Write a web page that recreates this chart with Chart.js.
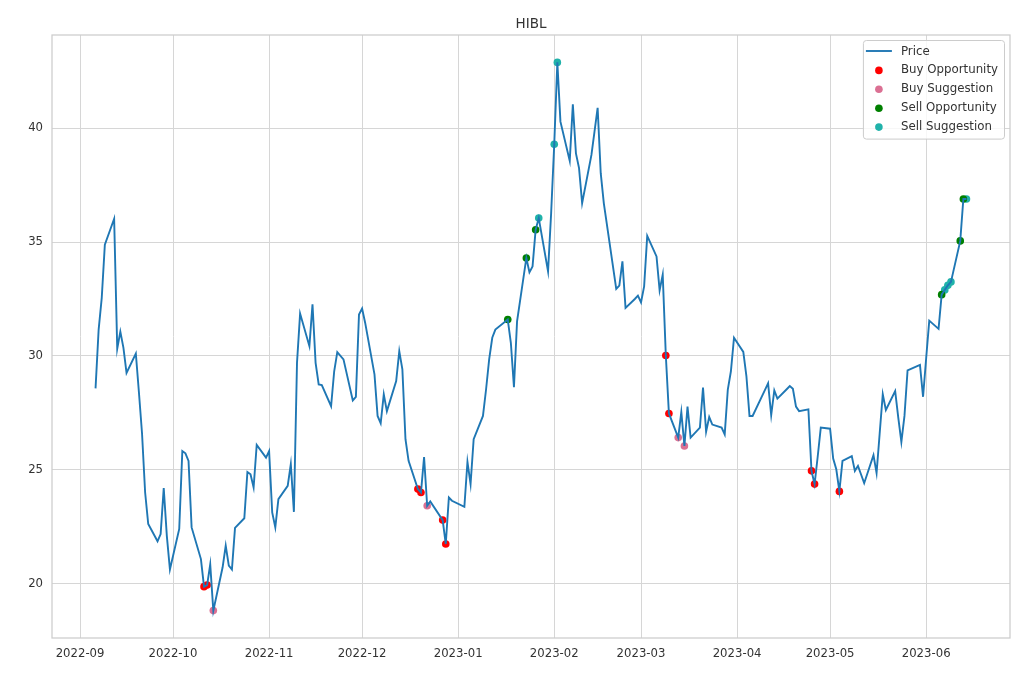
<!DOCTYPE html>
<html>
<head>
<meta charset="utf-8">
<script src="https://cdn.jsdelivr.net/npm/chart.js@4.4.1/dist/chart.umd.min.js"></script>
<style>
  html, body { margin: 0; padding: 0; background: #ffffff; }
  #wrap { width: 1020px; height: 680px; }
</style>
</head>
<body>
<div id="wrap"><canvas id="c" width="1020" height="680"></canvas></div>
<script>
// ---------------- data ----------------
const chartTitle = 'HIBL';

const dates = [
  '2022-09-06','2022-09-07','2022-09-08','2022-09-09','2022-09-12','2022-09-13','2022-09-14','2022-09-15','2022-09-16',
  '2022-09-19','2022-09-20','2022-09-21','2022-09-22','2022-09-23','2022-09-26','2022-09-27','2022-09-28','2022-09-29','2022-09-30',
  '2022-10-03','2022-10-04','2022-10-05','2022-10-06','2022-10-07','2022-10-10','2022-10-11','2022-10-12','2022-10-13','2022-10-14',
  '2022-10-17','2022-10-18','2022-10-19','2022-10-20','2022-10-21','2022-10-24','2022-10-25','2022-10-26','2022-10-27','2022-10-28',
  '2022-10-31','2022-11-01','2022-11-02','2022-11-03','2022-11-04','2022-11-07','2022-11-08','2022-11-09','2022-11-10','2022-11-11',
  '2022-11-14','2022-11-15','2022-11-16','2022-11-17','2022-11-18','2022-11-21','2022-11-22','2022-11-23','2022-11-25',
  '2022-11-28','2022-11-29','2022-11-30','2022-12-01','2022-12-02','2022-12-05','2022-12-06','2022-12-07','2022-12-08','2022-12-09',
  '2022-12-12','2022-12-13','2022-12-14','2022-12-15','2022-12-16','2022-12-19','2022-12-20','2022-12-21','2022-12-22','2022-12-23',
  '2022-12-27','2022-12-28','2022-12-29','2022-12-30','2023-01-03','2023-01-04','2023-01-05','2023-01-06',
  '2023-01-09','2023-01-10','2023-01-11','2023-01-12','2023-01-13','2023-01-17','2023-01-18','2023-01-19','2023-01-20',
  '2023-01-23','2023-01-24','2023-01-25','2023-01-26','2023-01-27','2023-01-30','2023-01-31','2023-02-01','2023-02-02','2023-02-03',
  '2023-02-06','2023-02-07','2023-02-08','2023-02-09','2023-02-10','2023-02-13','2023-02-14','2023-02-15','2023-02-16','2023-02-17',
  '2023-02-21','2023-02-22','2023-02-23','2023-02-24','2023-02-27','2023-02-28','2023-03-01','2023-03-02','2023-03-03',
  '2023-03-06','2023-03-07','2023-03-08','2023-03-09','2023-03-10','2023-03-13','2023-03-14','2023-03-15','2023-03-16','2023-03-17',
  '2023-03-20','2023-03-21','2023-03-22','2023-03-23','2023-03-24','2023-03-27','2023-03-28','2023-03-29','2023-03-30','2023-03-31',
  '2023-04-03','2023-04-04','2023-04-05','2023-04-06','2023-04-10','2023-04-11','2023-04-12','2023-04-13','2023-04-14',
  '2023-04-17','2023-04-18','2023-04-19','2023-04-20','2023-04-21','2023-04-24','2023-04-25','2023-04-26','2023-04-27','2023-04-28',
  '2023-05-01','2023-05-02','2023-05-03','2023-05-04','2023-05-05','2023-05-08','2023-05-09','2023-05-10','2023-05-11','2023-05-12',
  '2023-05-15','2023-05-16','2023-05-17','2023-05-18','2023-05-19','2023-05-22','2023-05-23','2023-05-24','2023-05-25','2023-05-26',
  '2023-05-30','2023-05-31','2023-06-01','2023-06-02','2023-06-05','2023-06-06','2023-06-07','2023-06-08','2023-06-09',
  '2023-06-12','2023-06-13','2023-06-14'
];

const prices = [
  28.58,31.16,32.55,34.88,36.02,30.32,31.07,30.36,29.26,
  30.11,28.40,26.60,24.01,22.63,21.87,22.19,24.21,22.11,20.63,
  22.41,25.83,25.73,25.40,22.48,21.09,19.88,19.95,20.86,18.83,
  20.73,21.68,20.80,20.63,22.46,22.88,24.91,24.81,24.23,26.10,
  25.54,25.83,23.14,22.48,23.72,24.30,25.25,23.16,29.70,31.86,
  30.43,32.27,29.70,28.75,28.72,27.80,29.33,30.17,29.85,
  28.05,28.21,31.82,32.08,31.45,29.19,27.37,27.05,28.32,27.58,
  28.90,30.21,29.41,26.35,25.40,24.16,24.01,25.57,23.43,23.62,
  22.80,21.75,23.79,23.65,23.38,25.35,24.38,26.35,
  27.37,28.53,29.85,30.80,31.16,31.60,30.58,28.63,31.52,
  34.30,33.67,33.93,35.54,36.05,33.71,36.27,39.29,42.88,40.28,
  38.56,41.04,38.89,38.24,36.70,38.82,39.85,40.89,38.02,36.70,
  32.94,33.09,34.15,32.11,32.50,32.65,32.35,33.05,35.27,
  34.37,32.88,33.57,30.02,27.48,26.42,27.54,26.05,27.78,26.42,
  26.86,28.61,26.68,27.32,26.99,26.86,26.56,28.53,29.33,30.80,
  30.18,29.12,27.37,27.37,28.51,28.80,27.40,28.49,28.13,
  28.54,28.68,28.56,27.78,27.58,27.66,24.96,24.38,25.58,26.86,
  26.81,25.50,25.03,24.06,25.40,25.61,24.96,25.18,24.80,24.42,
  25.65,24.86,26.60,28.32,27.63,28.46,27.30,26.23,27.37,29.37,
  29.61,28.21,29.90,31.55,31.19,32.69,32.90,33.10,33.25,
  35.05,36.89,36.89
];

const buyOpportunityDates  = ['2022-10-11','2022-10-12','2022-12-19','2022-12-20','2022-12-27','2022-12-28','2023-03-09','2023-03-10','2023-04-25','2023-04-26','2023-05-04'];
const buyOpportunityValues = [19.88,19.95,24.16,24.01,22.80,21.75,30.02,27.48,24.96,24.38,24.06];

const buySuggestionDates  = ['2022-10-14','2022-12-22','2023-03-13','2023-03-15'];
const buySuggestionValues = [18.83,23.43,26.42,26.05];

const sellOpportunityDates  = ['2023-01-17','2023-01-23','2023-01-26','2023-06-06','2023-06-12','2023-06-13'];
const sellOpportunityValues = [31.60,34.30,35.54,32.69,35.05,36.89];

const sellSuggestionDates  = ['2023-01-27','2023-02-01','2023-02-02','2023-06-07','2023-06-08','2023-06-09','2023-06-14'];
const sellSuggestionValues = [36.05,39.29,42.88,32.90,33.10,33.25,36.89];

const xTickLabels = ['2022-09','2022-10','2022-11','2022-12','2023-01','2023-02','2023-03','2023-04','2023-05','2023-06'];
const yTickValues = [20, 25, 30, 35, 40];

// ---------------- helpers ----------------
const toMs = s => Date.parse(s + 'T00:00:00Z');
const pts = (ds, vs) => ds.map((d, i) => ({ x: toMs(d), y: vs[i] }));

const allX = dates.map(toMs);
const xFirst = Math.min(...allX), xLast = Math.max(...allX);
const xPad = (xLast - xFirst) * 0.05;
const allY = prices.concat(buyOpportunityValues, buySuggestionValues, sellOpportunityValues, sellSuggestionValues);
const yLo = Math.min(...allY), yHi = Math.max(...allY);
const yPad = (yHi - yLo) * 0.05;

const FONT = 'DejaVu Sans';
const TEXT = '#333333';
const GRID = '#d6d6d6';

const framePlugin = {
  id: 'frame',
  afterDatasetsDraw(chart) {
    const { ctx, chartArea: a } = chart;
    ctx.save();
    ctx.strokeStyle = '#cccccc';
    ctx.lineWidth = 1.25;
    ctx.strokeRect(a.left, a.top, a.right - a.left, a.bottom - a.top);
    ctx.restore();
  }
};

const insideLegend = {
  id: 'insideLegend',
  afterDraw(chart) {
    const { ctx, chartArea: a } = chart;
    const ds = chart.data.datasets;
    ctx.save();
    ctx.font = '11.8px "' + FONT + '"';
    const tw = Math.max(...ds.map(d => ctx.measureText(d.label).width));
    const w = 38 + tw + 6, rowH = 18.9, h = 11 + rowH * (ds.length - 1) + 12;
    const right = a.right - 6, top = a.top + 5, left = right - w;
    ctx.beginPath();
    if (ctx.roundRect) ctx.roundRect(left + 0.5, top + 0.5, w, h, 3); else ctx.rect(left + 0.5, top + 0.5, w, h);
    ctx.fillStyle = 'rgba(255,255,255,0.8)';
    ctx.fill();
    ctx.strokeStyle = '#cccccc';
    ctx.lineWidth = 1;
    ctx.stroke();
    ds.forEach((d, i) => {
      const y = top + 11 + i * rowH;
      if (d.type === 'line') {
        ctx.beginPath();
        ctx.moveTo(left + 3, y);
        ctx.lineTo(left + 29, y);
        ctx.strokeStyle = d.borderColor;
        ctx.lineWidth = d.borderWidth;
        ctx.stroke();
      } else {
        ctx.beginPath();
        ctx.arc(left + 16, y + 0.5, d.pointRadius, 0, Math.PI * 2);
        ctx.fillStyle = d.backgroundColor;
        ctx.fill();
      }
      ctx.fillStyle = TEXT;
      ctx.textBaseline = 'middle';
      ctx.textAlign = 'left';
      ctx.fillText(d.label, left + 38, y + 0.5);
    });
    ctx.restore();
  }
};

const scatterDs = (label, ds, vs, color) => ({
  type: 'scatter', label, data: pts(ds, vs),
  backgroundColor: color, borderColor: color, borderWidth: 0,
  pointRadius: 3.8, pointHoverRadius: 3.8
});

new Chart(document.getElementById('c'), {
  type: 'scatter',
  data: {
    datasets: [
      { type: 'line', label: 'Price', data: pts(dates, prices), borderColor: '#1f77b4', backgroundColor: '#1f77b4',
        borderWidth: 1.9, pointRadius: 0, tension: 0, fill: false },
      scatterDs('Buy Opportunity', buyOpportunityDates, buyOpportunityValues, '#ff0000'),
      scatterDs('Buy Suggestion', buySuggestionDates, buySuggestionValues, '#db7093'),
      scatterDs('Sell Opportunity', sellOpportunityDates, sellOpportunityValues, '#008000'),
      scatterDs('Sell Suggestion', sellSuggestionDates, sellSuggestionValues, '#20b2aa')
    ]
  },
  options: {
    responsive: false,
    animation: false,
    devicePixelRatio: 1,
    layout: { padding: { left: 0, right: 10, top: 0, bottom: 0 } },
    plugins: {
      legend: { display: false },
      tooltip: { enabled: false },
      title: {
        display: true, text: chartTitle, fullSize: false, color: TEXT,
        font: { family: FONT, size: 13.5, weight: 'normal' },
        padding: { top: 16, bottom: 2.8 }
      }
    },
    scales: {
      x: {
        type: 'linear',
        min: xFirst - xPad,
        max: xLast + xPad,
        afterBuildTicks: s => { s.ticks = xTickLabels.map(l => ({ value: toMs(l + '-01') })); },
        afterFit: s => { s.height = 42; },
        grid: { color: GRID, lineWidth: 1, drawTicks: false },
        border: { display: false },
        ticks: {
          autoSkip: false, maxRotation: 0, minRotation: 0, padding: 9, color: TEXT,
          font: { family: FONT, size: 11.7 },
          callback: (v, i) => xTickLabels[i]
        }
      },
      y: {
        type: 'linear',
        min: yLo - yPad,
        max: yHi + yPad,
        afterBuildTicks: s => { s.ticks = yTickValues.map(v => ({ value: v })); },
        afterFit: s => { s.width = 52; },
        grid: { color: GRID, lineWidth: 1, drawTicks: false },
        border: { display: false },
        ticks: {
          padding: 9, color: TEXT,
          font: { family: FONT, size: 11.7 },
          callback: v => String(v)
        }
      }
    }
  },
  plugins: [framePlugin, insideLegend]
});
</script>
</body>
</html>
